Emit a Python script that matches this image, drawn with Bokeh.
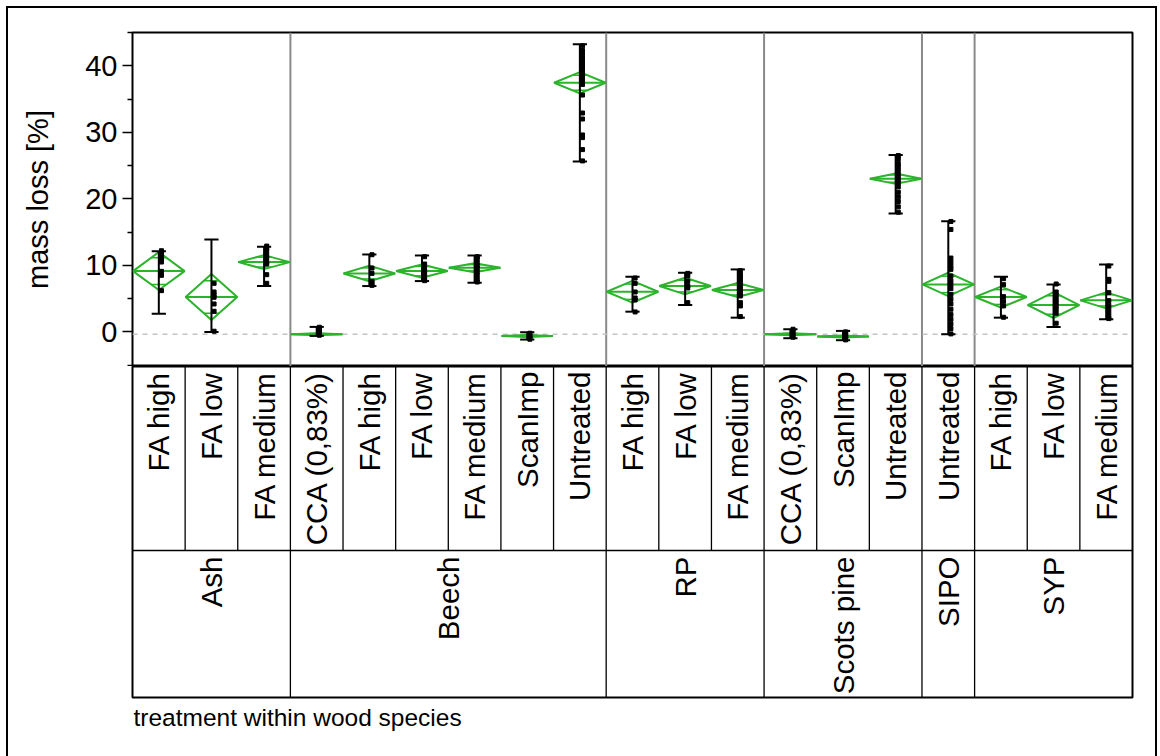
import math

from bokeh.core.properties import value
from bokeh.embed import file_html
from bokeh.layouts import column
from bokeh.models import FixedTicker, Range1d, Title
from bokeh.plotting import figure
from bokeh.resources import INLINE

# ---- data -----------------------------------------------------------------
species = ["Ash", "Beech", "RP", "Scots pine", "SIPO", "SYP"]

group_species = [
    "Ash", "Ash", "Ash",
    "Beech", "Beech", "Beech", "Beech", "Beech", "Beech",
    "RP", "RP", "RP",
    "Scots pine", "Scots pine", "Scots pine",
    "SIPO",
    "SYP", "SYP", "SYP",
]
treatments = [
    "FA high", "FA low", "FA medium",
    "CCA (0,83%)", "FA high", "FA low", "FA medium", "ScanImp", "Untreated",
    "FA high", "FA low", "FA medium",
    "CCA (0,83%)", "ScanImp", "Untreated",
    "Untreated",
    "FA high", "FA low", "FA medium",
]

# group means and half-width of the 95% confidence interval (mean diamonds)
means = [9.14, 5.24, 10.49,
         -0.35, 8.79, 9.14, 9.64, -0.60, 37.45,
         6.04, 6.89, 6.29,
         -0.35, -0.70, 23.03,
         7.14,
         5.24, 4.04, 4.74]
ci_half = [2.85, 3.45, 1.05,
           0.15, 1.17, 1.00, 0.67, 0.15, 1.60,
           1.63, 1.25, 1.05,
           0.15, 0.15, 0.78,
           1.75,
           1.57, 1.95, 1.20]

# whisker ends
bar_low = [2.74, 0.00, 6.90,
           -0.60, 6.89, 7.64, 7.39, -1.15, 25.60,
           3.04, 4.04, 2.14,
           -0.95, -1.25, 17.78,
           -0.35,
           2.14, 0.75, 1.90]
bar_high = [12.13, 13.90, 12.80,
            0.75, 11.64, 11.49, 11.49, -0.05, 43.25,
            8.29, 8.89, 9.39,
            0.40, 0.15, 26.60,
            16.63,
            8.29, 7.14, 10.14]

# individual observations, mass loss [%]
observations = [
    [12.2, 11.9, 11.6, 11.2, 10.8, 10.5, 9.1, 8.5, 6.2],
    [7.3, 6.0, 5.5, 5.2, 4.2, 3.1, 0.1],
    [12.9, 12.6, 12.2, 11.6, 11.1, 10.5, 10.2, 8.6, 7.3],
    [0.7, 0.4, 0.1, -0.2, -0.4, -0.5],
    [11.6, 9.6, 8.8, 7.6, 7.3, 7.0],
    [11.3, 10.2, 9.6, 9.1, 8.6, 8.1, 7.7],
    [11.3, 11.0, 10.4, 9.9, 9.6, 9.0, 8.5, 7.9, 7.5],
    [-0.2, -0.5, -0.7, -0.9, -1.1],
    [43.0, 42.3, 41.8, 41.2, 40.7, 40.2, 39.7, 39.2, 38.7, 38.2, 37.7, 37.2,
     35.6, 32.9, 32.0, 29.6, 29.2, 27.4, 25.7],
    [8.1, 7.3, 6.0, 5.1, 4.8, 3.0],
    [8.8, 8.4, 7.6, 6.9, 6.6, 4.4],
    [9.2, 8.6, 8.3, 7.9, 7.5, 6.9, 6.4, 5.9, 5.4, 4.4, 3.9, 2.3],
    [0.4, 0.1, -0.2, -0.5, -0.8],
    [0.0, -0.3, -0.6, -0.9, -1.2],
    [26.5, 26.0, 25.3, 24.8, 24.2, 23.6, 23.0, 22.4, 21.8, 21.0, 20.3, 19.6,
     18.8, 18.0],
    [16.6, 15.4, 11.1, 10.5, 9.9, 9.4, 8.4, 7.7, 7.1, 6.5, 5.6, 4.9, 4.2,
     3.4, 2.6, 1.9, 1.2, 0.5, -0.3],
    [8.0, 7.1, 5.3, 4.6, 3.9, 2.2],
    [7.2, 6.0, 5.5, 4.9, 4.4, 3.9, 3.4, 2.8, 1.3],
    [9.9, 7.9, 7.6, 5.9, 4.7, 4.0, 3.4, 2.8, 2.2, 2.0],
]

reference_level = -0.35
y_ticks = [0, 10, 20, 30, 40]
y_minor_ticks = [-5, 5, 15, 25, 35, 45]

# ---- layout (page pixels; both canvases sit inside an 8px page offset) ----
OFF = 8
W = 1147
FRAME_L, FRAME_R = 132, 1132
FRAME_T, DATA_B, TABLE_B, PAGE_B = 32, 366, 697, 756
ROW_SPLIT = 550
N = len(treatments)

FONT = value("Liberation Sans")
GREEN = "#2cb32c"
LABEL_SIZE = "29.5px"

x_range = Range1d(0, N)
centers = [i + 0.5 for i in range(N)]
boundaries = [i for i in range(1, N) if group_species[i] != group_species[i - 1]]

# ---- data panel -------------------------------------------------------------
p = figure(
    width=W, height=DATA_B - OFF,
    x_range=x_range, y_range=Range1d(-5.2, 45.0),
    x_axis_location=None,
    output_backend="svg", toolbar_location=None,
    min_border_left=FRAME_L - OFF, min_border_right=W - (FRAME_R - OFF),
    min_border_top=FRAME_T - OFF, min_border_bottom=0,
)
p.xgrid.visible = False
p.ygrid.visible = False
p.outline_line_color = "black"
p.outline_line_width = 2
p.background_fill_color = "white"
p.border_fill_color = "white"

yax = p.yaxis[0]
yax.ticker = FixedTicker(ticks=y_ticks, minor_ticks=y_minor_ticks)
yax.axis_line_color = None
yax.major_tick_in = 0
yax.major_tick_out = 10
yax.minor_tick_in = 0
yax.minor_tick_out = 5
yax.major_tick_line_width = 1.5
yax.minor_tick_line_width = 1.5
yax.major_label_standoff = 5
yax.major_label_text_font = "Liberation Sans"
yax.major_label_text_font_size = "29px"
yax.major_label_text_color = "black"
yax.axis_label = "mass loss [%]"
yax.axis_label_standoff = 28
yax.axis_label_text_font = "Liberation Sans"
yax.axis_label_text_font_size = "29px"
yax.axis_label_text_font_style = "normal"
yax.axis_label_text_color = "black"

# species separators
p.segment(x0=boundaries, y0=[-5.2] * len(boundaries),
          x1=boundaries, y1=[45.0] * len(boundaries),
          line_color="#8a8a8a", line_width=2)

# reference line
p.segment(x0=[0], y0=[reference_level], x1=[N], y1=[reference_level],
          line_color="#c4c4c4", line_width=1.5, line_dash="5 5")

# mean diamonds
half_w = 0.49
dxs, dys = [], []
for c, m, h in zip(centers, means, ci_half):
    dxs.append([c - half_w, c, c + half_w, c])
    dys.append([m, m + h, m, m - h])
p.patches(xs=dxs, ys=dys, fill_alpha=0, line_color=GREEN, line_width=2)
p.segment(x0=[c - half_w for c in centers], y0=means,
          x1=[c + half_w for c in centers], y1=means,
          line_color=GREEN, line_width=2)
# overlap marks
k = 1 / math.sqrt(2)
ow = half_w * (1 - k)
for sign in (1, -1):
    oy = [m + sign * h * k for m, h in zip(means, ci_half)]
    p.segment(x0=[c - ow for c in centers], y0=oy,
              x1=[c + ow for c in centers], y1=oy,
              line_color=GREEN, line_width=1.5)

# whiskers
cap = 0.135
p.segment(x0=centers, y0=bar_low, x1=centers, y1=bar_high,
          line_color="black", line_width=2)
p.segment(x0=[c - cap for c in centers], y0=bar_low,
          x1=[c + cap for c in centers], y1=bar_low,
          line_color="black", line_width=2)
p.segment(x0=[c - cap for c in centers], y0=bar_high,
          x1=[c + cap for c in centers], y1=bar_high,
          line_color="black", line_width=2)

# observations
px, py = [], []
for c, obs in zip(centers, observations):
    for v in obs:
        px.append(c + 0.05)
        py.append(v)
p.scatter(px, py, marker="square", size=4, color="black")

# ---- label table (y = depth in px below the data panel) -------------------
table_h = TABLE_B - DATA_B
split = ROW_SPLIT - DATA_B
t = figure(
    width=W, height=PAGE_B - DATA_B,
    x_range=x_range, y_range=Range1d(table_h, 0),
    x_axis_location=None, y_axis_location=None,
    output_backend="svg", toolbar_location=None,
    min_border_left=FRAME_L - OFF, min_border_right=W - (FRAME_R - OFF),
    min_border_top=0, min_border_bottom=PAGE_B - TABLE_B,
)
t.xgrid.visible = False
t.ygrid.visible = False
t.outline_line_color = "black"
t.outline_line_width = 2
t.background_fill_color = "white"
t.border_fill_color = "white"

t.segment(x0=[0], y0=[split], x1=[N], y1=[split], line_color="black", line_width=1.5)
inner = list(range(1, N))
t.segment(x0=inner, y0=[0] * len(inner), x1=inner, y1=[split] * len(inner),
          line_color="black", line_width=1.3)
t.segment(x0=boundaries, y0=[split] * len(boundaries),
          x1=boundaries, y1=[table_h] * len(boundaries),
          line_color="black", line_width=1.3)

t.text(x=centers, y=[5] * N, text=treatments, angle=math.pi / 2,
       text_align="right", text_baseline="middle",
       text_font=FONT, text_font_size=LABEL_SIZE, text_color="black")

sp_centers = []
for s in species:
    idx = [i for i, g in enumerate(group_species) if g == s]
    sp_centers.append((min(idx) + max(idx) + 1) / 2)
t.text(x=sp_centers, y=[split + 6] * len(species), text=species, angle=math.pi / 2,
       text_align="right", text_baseline="middle",
       text_font=FONT, text_font_size=LABEL_SIZE, text_color="black")

t.add_layout(Title(text="treatment within wood species", align="left",
                   text_font="Liberation Sans", text_font_size="24.5px",
                   text_font_style="normal", text_color="black",
                   standoff=8, offset=1), "below")

layout = column(p, t, spacing=0)
# outer frame around the whole graphic (open at the bottom)
layout.styles = {
    "margin-left": "6px", "margin-top": "6px",
    "border-left": "2px solid black", "border-top": "2px solid black",
    "border-right": "2px solid black",
}

open("out.html", "w").write(file_html(layout, INLINE))
